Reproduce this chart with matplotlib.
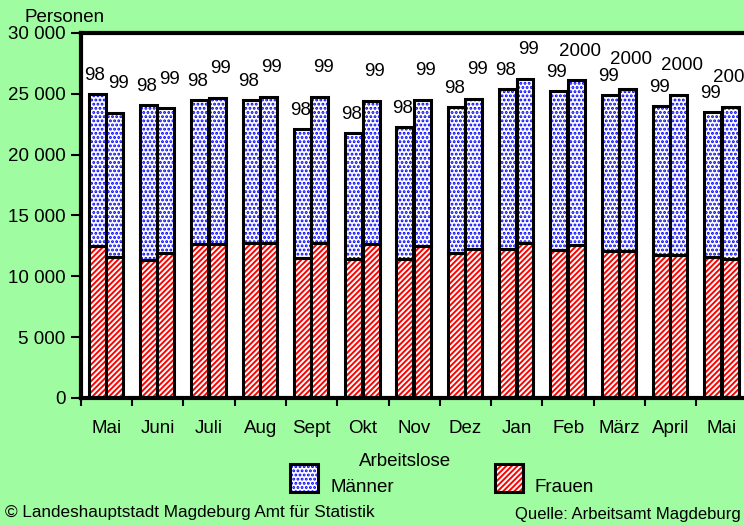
import numpy as np
import matplotlib
matplotlib.use('Agg')
import matplotlib.pyplot as plt
from matplotlib.patches import Rectangle
from matplotlib.ticker import FuncFormatter

plt.rcParams['font.family'] = ['Liberation Sans', 'DejaVu Sans']
plt.rcParams['hatch.linewidth'] = 1.4

# Data
months = ['Mai', 'Juni', 'Juli', 'Aug', 'Sept', 'Okt', 'Nov', 'Dez', 'Jan',
          'Feb', 'März', 'April', 'Mai']
frauen_1 = [12530, 11310, 12630, 12710, 11530, 11420, 11400, 11940, 12240,
            12160, 12050, 11720, 11610]
maenner_1 = [12450, 12790, 11860, 11780, 10600, 10380, 10870, 11970, 13120,
             13090, 12850, 12300, 11870]
frauen_2 = [11610, 11940, 12630, 12760, 12760, 12650, 12490, 12240, 12710,
            12570, 12110, 11750, 11420]
maenner_2 = [11840, 11860, 12020, 12000, 12000, 11780, 12000, 12330, 13500,
             13530, 13310, 13150, 12490]
years_1 = ['98'] * 9 + ['99'] * 4
years_2 = ['99'] * 9 + ['2000'] * 4

bg = '#a0fca0'
fig = plt.figure(figsize=(7.44, 5.25), dpi=100, facecolor=bg)
ax = fig.add_axes([80.7 / 744, 1 - 398 / 525, 667 / 744, 365 / 525])
ax.set_facecolor('white')

x = np.arange(len(months))
w = 0.33
# (bar offset, label offset in points)
for off, lab_off, fr, ma, yrs in [(-0.18, (-1.5, 13.5), frauen_1, maenner_1, years_1),
                                  (0.16, (2.5, 21), frauen_2, maenner_2, years_2)]:
    fr = np.array(fr)
    ma = np.array(ma)
    ax.bar(x + off, fr, w, color='white', edgecolor='red', hatch='//////', lw=0)
    ax.bar(x + off, ma, w, bottom=fr, color='white', edgecolor='blue',
           hatch='....', lw=0)
    ax.bar(x + off, fr, w, fill=False, edgecolor='black', lw=2.2)
    ax.bar(x + off, ma, w, bottom=fr, fill=False, edgecolor='black', lw=2.2)
    for xi, top, lbl in zip(x + off, fr + ma, yrs):
        ax.annotate(lbl, (xi, top), xytext=lab_off, textcoords='offset points',
                    ha='center', va='center', fontsize=13.5, clip_on=False)

ax.set_xlim(-0.5, 12.5)
ax.set_ylim(0, 30000)
ax.set_yticks(np.arange(0, 30001, 5000))
ax.yaxis.set_major_formatter(FuncFormatter(lambda v, p: f'{int(v):,}'.replace(',', ' ')))
ax.tick_params(axis='y', direction='out', length=7, width=1.5, pad=4, labelsize=13.5)

ax.set_xticks(np.arange(14) - 0.5)
ax.set_xticklabels([])
ax.set_xticks(x, minor=True)
ax.set_xticklabels(months, minor=True)
ax.tick_params(axis='x', which='major', direction='out', length=6, width=1.5)
ax.tick_params(axis='x', which='minor', length=0, pad=16, labelsize=13.5)

for s in ['top', 'left', 'bottom', 'right']:
    ax.spines[s].set_linewidth(3)

fig.text(25 / 744, 1 - 17 / 525, 'Personen', va='center', fontsize=13.5)

# Legend
for x0, col, hatch, lbl, tx in [(290, 'blue', '....', 'Männer', 330),
                                (495, 'red', '//////', 'Frauen', 535)]:
    fig.patches.append(Rectangle((x0 / 744, 1 - 492 / 525), 28 / 744, 28 / 525,
                                 transform=fig.transFigure, facecolor='white',
                                 edgecolor=col, hatch=hatch, lw=0))
    fig.patches.append(Rectangle((x0 / 744, 1 - 492 / 525), 28 / 744, 28 / 525,
                                 transform=fig.transFigure, fill=False,
                                 edgecolor='black', lw=2.2))
    fig.text(tx / 744, 1 - 487 / 525, lbl, va='center', fontsize=13.5)
fig.text(405 / 744, 1 - 462 / 525, 'Arbeitslose', ha='center', va='center', fontsize=13.5)

fig.text(5 / 744, 1 - 512 / 525, '© Landeshauptstadt Magdeburg Amt für Statistik',
         va='center', fontsize=12.3)
fig.text(741 / 744, 1 - 514 / 525, 'Quelle: Arbeitsamt Magdeburg',
         ha='right', va='center', fontsize=12)

fig.savefig('out.png', dpi=100, facecolor=bg)
